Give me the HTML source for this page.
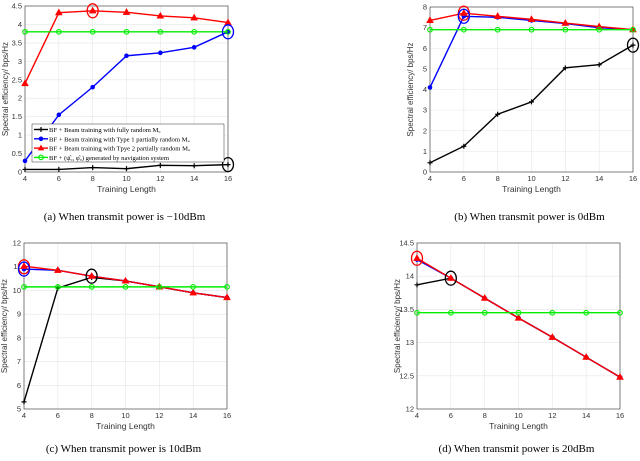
<!DOCTYPE html>
<html><head><meta charset="utf-8">
<style>
html,body{margin:0;padding:0;background:#fff;}
svg{display:block;font-family:"Liberation Sans",sans-serif;}
.cap{font-family:"Liberation Serif",serif;font-size:11px;fill:#000;}
</style></head>
<body>
<svg id="fig" width="640" height="461" viewBox="0 0 640 461"></svg>
<script>
const xCats = [4,6,8,10,12,14,16];
const aBlack = [0.07,0.07,0.12,0.09,0.18,0.17,0.2];
const aBlue = [0.3,1.55,2.3,3.15,3.23,3.38,3.8];
const aRed = [2.4,4.32,4.37,4.33,4.23,4.18,4.05];
const aGreen = [3.8,3.8,3.8,3.8,3.8,3.8,3.8];
const aTicks = [0,0.5,1,1.5,2,2.5,3,3.5,4,4.5];
const bBlack = [0.45,1.25,2.8,3.4,5.05,5.2,6.15];
const bBlue = [4.1,7.55,7.5,7.35,7.2,7.0,6.9];
const bRed = [7.35,7.7,7.55,7.4,7.22,7.05,6.9];
const bGreen = [6.9,6.9,6.9,6.9,6.9,6.9,6.9];
const bTicks = [0,1,2,3,4,5,6,7,8];
const cBlack = [5.3,10.1,10.55,10.4,10.15,9.9,9.7];
const cBlue = [10.9,10.85,10.6,10.4,10.15,9.9,9.7];
const cRed = [11.02,10.85,10.6,10.4,10.15,9.9,9.7];
const cGreen = [10.15,10.15,10.15,10.15,10.15,10.15,10.15];
const cTicks = [5,6,7,8,9,10,11,12];
const dBlack = [13.87,13.97,13.67,13.37,13.08,12.78,12.48];
const dBlue = [14.25,13.97,13.67,13.37,13.08,12.78,12.48];
const dRed = [14.27,13.97,13.67,13.37,13.08,12.78,12.48];
const dGreen = [13.45,13.45,13.45,13.45,13.45,13.45,13.45];
const dTicks = [12,12.5,13,13.5,14,14.5];
const xTicks = [4,6,8,10,12,14,16];

const NS = "http://www.w3.org/2000/svg";
const svg = document.getElementById('fig');
function mk(tag, attrs, parent){
  const e = document.createElementNS(NS, tag);
  for (const k in attrs) e.setAttribute(k, attrs[k]);
  (parent||svg).appendChild(e);
  return e;
}
function panel(id, box, ymin, ymax, yTicks, series, circles, caption, capY){
  const g = mk('g', {});
  
  
  const sx = v => box.x0 + (v - 4) / 12 * (box.x1 - box.x0);
  const sy = v => box.y1 - (v - ymin) / (ymax - ymin) * (box.y1 - box.y0);
  mk('rect', {x:box.x0, y:box.y0, width:box.x1-box.x0, height:box.y1-box.y0, fill:'#fff', stroke:'none'}, g);
  xTicks.forEach(t => {
    const l = mk('line', {x1:sx(t), x2:sx(t), y1:box.y0, y2:box.y1, stroke:'#e6e6e6', 'stroke-width':0.6}, g);
    
    
    const tx = mk('text', {x:sx(t), y:box.y1+9, 'font-size':7.5, fill:'#333', 'text-anchor':'middle'}, g);
    tx.textContent = t;
    
    
  });
  yTicks.forEach(t => {
    const l = mk('line', {x1:box.x0, x2:box.x1, y1:sy(t), y2:sy(t), stroke:'#e6e6e6', 'stroke-width':0.6}, g);
    
    
    const tx = mk('text', {x:box.x0-3, y:sy(t)+2.5, 'font-size':7.5, fill:'#333', 'text-anchor':'end'}, g);
    tx.textContent = t;
    
    
  });
  const fr = mk('rect', {x:box.x0, y:box.y0, width:box.x1-box.x0, height:box.y1-box.y0, fill:'none', stroke:'#333', 'stroke-width':0.6}, g);
  
  
  const xl = mk('text', {x:(box.x0+box.x1)/2, y:box.y1+20, 'font-size':8.5, fill:'#333', 'text-anchor':'middle'}, g);
  xl.textContent = 'Training Length';
  
  
  const ycx = box.x0 - 17, ycy = (box.y0+box.y1)/2;
  const yl = mk('text', {x:ycx, y:ycy, 'font-size':8, fill:'#333', 'text-anchor':'middle', transform:`rotate(-90 ${ycx} ${ycy})`}, g);
  yl.textContent = 'Spectral efficiency/ bps/Hz';
  
  
  series.forEach(s => {
    const pts = s.data.map((v,i) => sx(xCats[i]) + ',' + sy(v)).join(' ');
    const pl = mk('polyline', {points:pts, fill:'none', stroke:s.color, 'stroke-width':1.4}, g);
    
    
    s.data.forEach((v,i) => {
      const X = sx(xCats[i]), Y = sy(v);
      let m;
      if (s.marker === 'plus') {
        m = mk('path', {d:`M${X-2.5},${Y}H${X+2.5}M${X},${Y-2.5}V${Y+2.5}`, stroke:s.color, 'stroke-width':1.2}, g);
      } else if (s.marker === 'dot') {
        m = mk('circle', {cx:X, cy:Y, r:2.3, fill:s.color}, g);
      } else if (s.marker === 'tri') {
        m = mk('path', {d:`M${X},${Y-3.5}L${X+3.3},${Y+2.3}L${X-3.3},${Y+2.3}Z`, fill:s.color, stroke:s.color, 'stroke-width':0.6}, g);
      } else {
        m = mk('circle', {cx:X, cy:Y, r:2.3, fill:'none', stroke:s.color, 'stroke-width':1.1}, g);
      }
      
      
    });
  });
  circles.forEach(c => {
    const e = mk('ellipse', {cx:sx(c.x), cy:sy(c.y), rx:5.5, ry:7, fill:'none', stroke:c.color, 'stroke-width':1.3}, g);
    
    
  });
  const cp = mk('text', {x:(box.x0+box.x1)/2 - 2, y:capY, class:'cap', 'text-anchor':'middle'}, g);
  cp.textContent = caption;
  
  
  return g;
}
function S(b,bl,r,gr){
  return [
    {name:'fully-random', color:'#000', marker:'plus', data:b},
    {name:'type1', color:'#0000ff', marker:'dot', data:bl},
    {name:'type2', color:'#ff0000', marker:'tri', data:r},
    {name:'navigation', color:'#00ee00', marker:'ring', data:gr}
  ];
}
panel('a', {x0:25,x1:228,y0:6,y1:172}, 0, 4.5, aTicks, S(aBlack,aBlue,aRed,aGreen),
  [{x:8,y:4.37,color:'#ff0000'},{x:16,y:3.8,color:'#0000ff'},{x:16,y:0.2,color:'#000'}],
  '(a) When transmit power is \u221210dBm', 220);
panel('b', {x0:430,x1:633,y0:7,y1:172}, 0, 8, bTicks, S(bBlack,bBlue,bRed,bGreen),
  [{x:6,y:7.7,color:'#ff0000'},{x:6,y:7.55,color:'#0000ff'},{x:16,y:6.15,color:'#000'}],
  '(b) When transmit power is 0dBm', 220);
panel('c', {x0:24,x1:227,y0:243,y1:409}, 5, 12, cTicks, S(cBlack,cBlue,cRed,cGreen),
  [{x:4,y:11.0,color:'#ff0000'},{x:4,y:10.9,color:'#0000ff'},{x:8,y:10.6,color:'#000'}],
  '(c) When transmit power is 10dBm', 452);
panel('d', {x0:417,x1:620,y0:243,y1:409}, 12, 14.5, dTicks, S(dBlack,dBlue,dRed,dGreen),
  [{x:4,y:14.27,color:'#ff0000'},{x:6,y:13.97,color:'#000'}],
  '(d) When transmit power is 20dBm', 452);

const lg = mk('g', {});


mk('rect', {x:32, y:124, width:192, height:38, fill:'#fff', stroke:'#333', 'stroke-width':0.5}, lg);
const legTexts = ['BF + Beam training with fully random M\u1D64',
  'BF + Beam training with Type 1 partially random M\u1D64',
  'BF + Beam training with Tpye 2 partially random M\u1D64',
  'BF + (\u03C8\u0302\u1D64, \u03C6\u0302\u1D64) generated by navigation system'];
const legColors = ['#000','#0000ff','#ff0000','#00ee00'];
legTexts.forEach((t,i) => {
  const y = 129.5 + i*9.3;
  const ln = mk('line', {x1:34, x2:48, y1:y, y2:y, stroke:legColors[i], 'stroke-width':1.4}, lg);
  
  
  let m;
  if (i===0) m = mk('path', {d:`M38.5,${y}H43.5M41,${y-2.5}V${y+2.5}`, stroke:'#000', 'stroke-width':1.2}, lg);
  else if (i===1) m = mk('circle', {cx:41, cy:y, r:2.3, fill:'#0000ff'}, lg);
  else if (i===2) m = mk('path', {d:`M41,${y-3.5}L44.3,${y+2.3}L37.7,${y+2.3}Z`, fill:'#ff0000'}, lg);
  else m = mk('circle', {cx:41, cy:y, r:2.3, fill:'none', stroke:'#00ee00', 'stroke-width':1.1}, lg);
  
  
  const tx = mk('text', {x:49, y:y+2.5, 'font-size':6.6, 'font-family':'Liberation Serif, serif', fill:'#000'}, lg);
  tx.textContent = t;
  
  
});
</script>
</body></html>
